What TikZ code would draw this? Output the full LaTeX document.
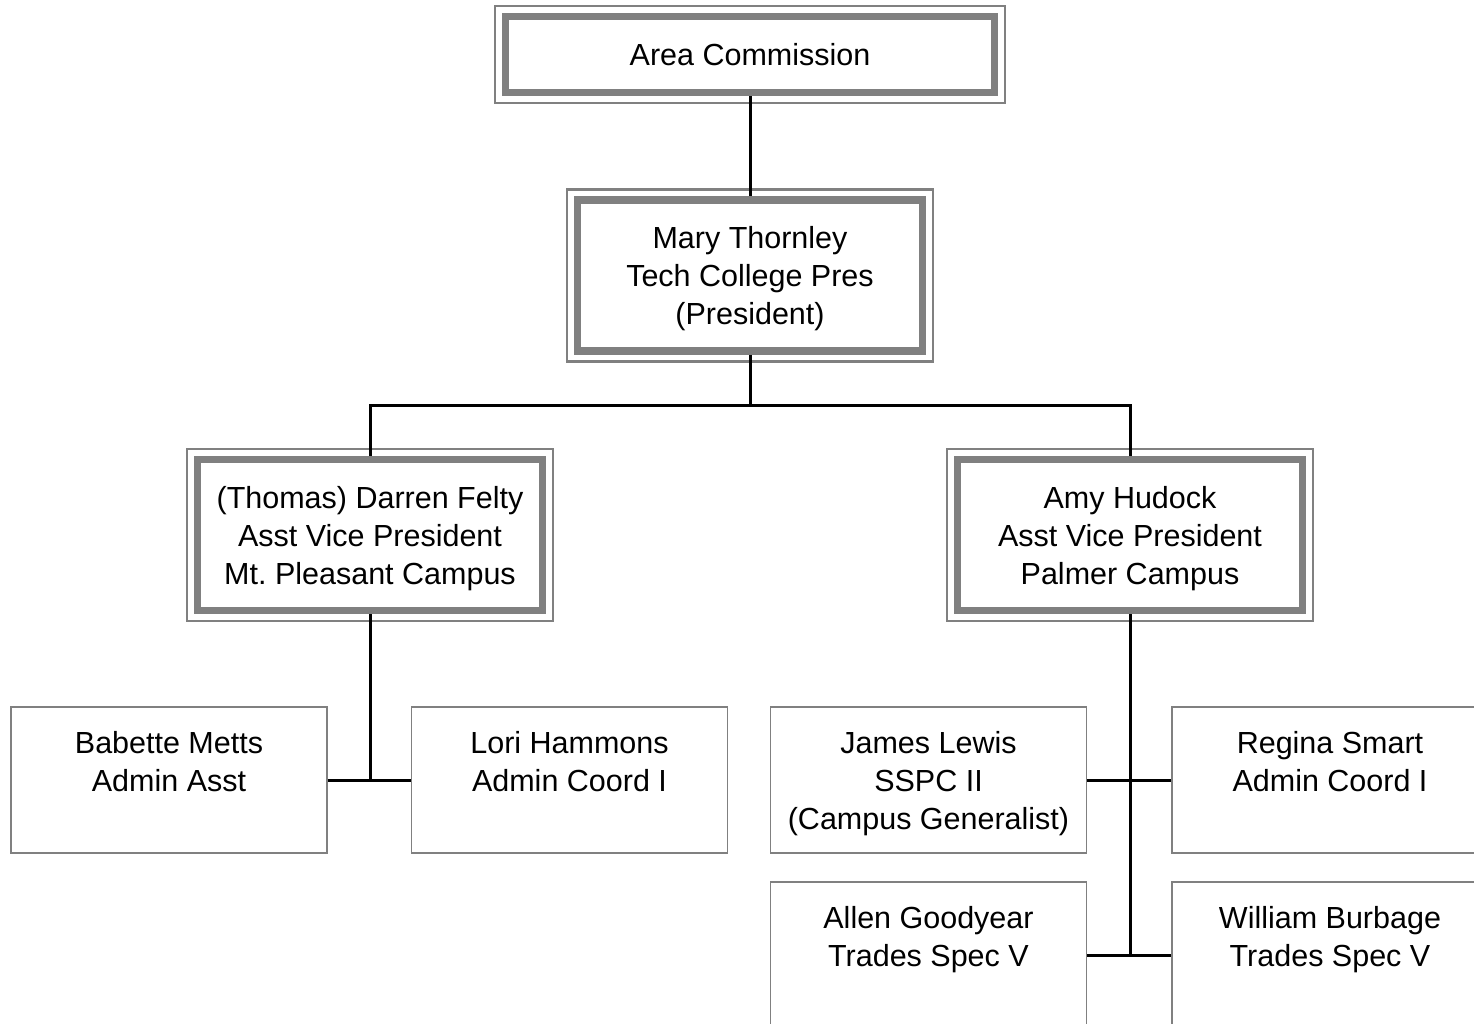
\documentclass[tikz,border=0pt]{standalone}
\usepackage{fontspec}
\setmainfont{Liberation Sans}
\usetikzlibrary{positioning}

\begin{document}
\begin{tikzpicture}[
  x=1pt, y=-1pt,
  every node/.style={font=\fontsize{30.5}{38}\selectfont, align=center,
                     text depth=10pt},
  dframe/.style={draw=gray, line width=7.5pt, fill=white,
                 preaction={draw=gray, line width=23.5pt},
                 preaction={draw=white, line width=18.5pt}},
  topbox/.style={dframe, minimum width=489pt, minimum height=76pt,
                 text height=33pt},
  vpbox/.style={dframe, minimum width=345pt, minimum height=151pt,
                text height=108pt},
  staffbox/.style={draw=gray, line width=1.3pt, fill=white,
                   minimum width=316pt, minimum height=146pt,
                   text height=108pt},
  link/.style={line width=3pt}
]
  \clip (0,0) rectangle (1474,1024);

  % - Top levels -
  \node[topbox] (area) at (750,54.5) {Area Commission};
  \node[vpbox]  (mary) at (750,275.5) {Mary Thornley\\Tech College Pres\\(President)};

  % - Campus heads -
  \node[vpbox] (darren) at (370,535)  {(Thomas) Darren Felty\\Asst Vice President\\Mt.\ Pleasant Campus};
  \node[vpbox] (amy)    at (1130,535) {Amy Hudock\\Asst Vice President\\Palmer Campus};

  % - Staff -
  \node[staffbox] (babette) at (169,780)   {Babette Metts\\Admin Asst\\};
  \node[staffbox] (lori)    at (569.5,780) {Lori Hammons\\Admin Coord I\\};
  \node[staffbox] (james)   at (928.5,780) {James Lewis\\SSPC II\\(Campus Generalist)};
  \node[staffbox] (regina)  at (1330,780)  {Regina Smart\\Admin Coord I\\};
  \node[staffbox] (allen)   at (928.5,955) {Allen Goodyear\\Trades Spec V\\};
  \node[staffbox] (william) at (1330,955)  {William Burbage\\Trades Spec V\\};

  % - Junctions -
  \coordinate (bus)  at (750,405);
  \coordinate (mtp)  at (370,780);
  \coordinate (palm) at (1130,955);

  % - Lines -
  \draw[link] (area) -- (mary);
  \draw[link] (mary) -- (bus) -| (darren);
  \draw[link] (bus) -| (amy);
  \draw[link] (darren) -- (mtp);
  \draw[link] (babette) -- (lori);
  \draw[link] (amy) -- (palm);
  \draw[link] (james) -- (regina);
  \draw[link] (allen) -- (william);
\end{tikzpicture}
\end{document}
